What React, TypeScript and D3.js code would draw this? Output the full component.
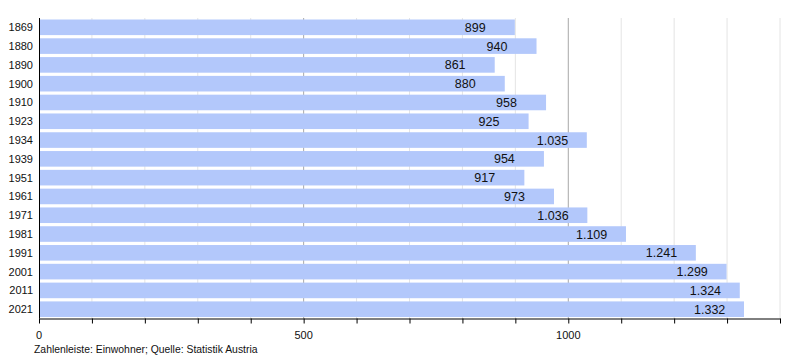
import React from "react";
import * as d3 from "d3";

const years = ["1869","1880","1890","1900","1910","1923","1934","1939","1951","1961","1971","1981","1991","2001","2011","2021"];
const population = [899,940,861,880,958,925,1035,954,917,973,1036,1109,1241,1299,1324,1332];
const majorTicks = [0,500,1000];
const caption = "Zahlenleiste: Einwohner; Quelle: Statistik Austria";

const W = 800, H = 360;
const left = 39, right = 780, top = 18, bottom = 318.5;

export default function App() {
  const x = d3.scaleLinear().domain([0, 1400]).range([left, right]);
  const y = d3.scaleBand().domain(years).range([top, bottom]).paddingInner(0.17).paddingOuter(0.08);
  const minor = d3.range(0, 1401, 100);
  const fmt = (v: number) => v >= 1000 ? d3.format(",")(v).replace(",", ".") : String(v);
  const font = "'Liberation Sans', Arial, sans-serif";
  return (
    <svg width={W} height={H} style={{ position: "absolute", left: 0, top: 0 }} fontFamily={font}>
      <rect width={W} height={H} fill="#fff" />
      {minor.filter(v => v > 0).map(v => (
        <line key={"g" + v} x1={x(v)} x2={x(v)} y1={top} y2={bottom}
          stroke={v % 500 === 0 ? "#a8a8a8" : "#e4e4e4"} strokeWidth={1} />
      ))}
      {years.map((yr, i) => (
        <rect key={yr} x={x(0)} y={y(yr)!} width={x(population[i]) - x(0)} height={y.bandwidth()} fill="#b3c8fb" />
      ))}
      {years.map((yr, i) => (
        <text key={"v" + yr} x={x(population[i]) - 50} y={y(yr)! + y.bandwidth() / 2 + 4.5}
          textAnchor="start" fontSize={12.5} fill="#111">{fmt(population[i])}</text>
      ))}
      {years.map(yr => (
        <text key={"l" + yr} x={33} y={y(yr)! + y.bandwidth() / 2 + 4}
          textAnchor="end" fontSize={11} fill="#111">{yr}</text>
      ))}
      <line x1={left + 0.5} x2={left + 0.5} y1={top} y2={bottom} stroke="#000" />
      <line x1={left} x2={right + 0.5} y1={bottom + 0.5} y2={bottom + 0.5} stroke="#000" />
      {minor.map(v => (
        <line key={"t" + v} x1={x(v) + 0.5} x2={x(v) + 0.5} y1={bottom} y2={bottom + 5} stroke="#000" />
      ))}
      {majorTicks.map(v => (
        <text key={"m" + v} x={x(v)} y={339} textAnchor="middle" fontSize={11} fill="#111">{v}</text>
      ))}
      <text x={34} y={353} fontSize={10.4} fill="#111">{caption}</text>
    </svg>
  );
}
